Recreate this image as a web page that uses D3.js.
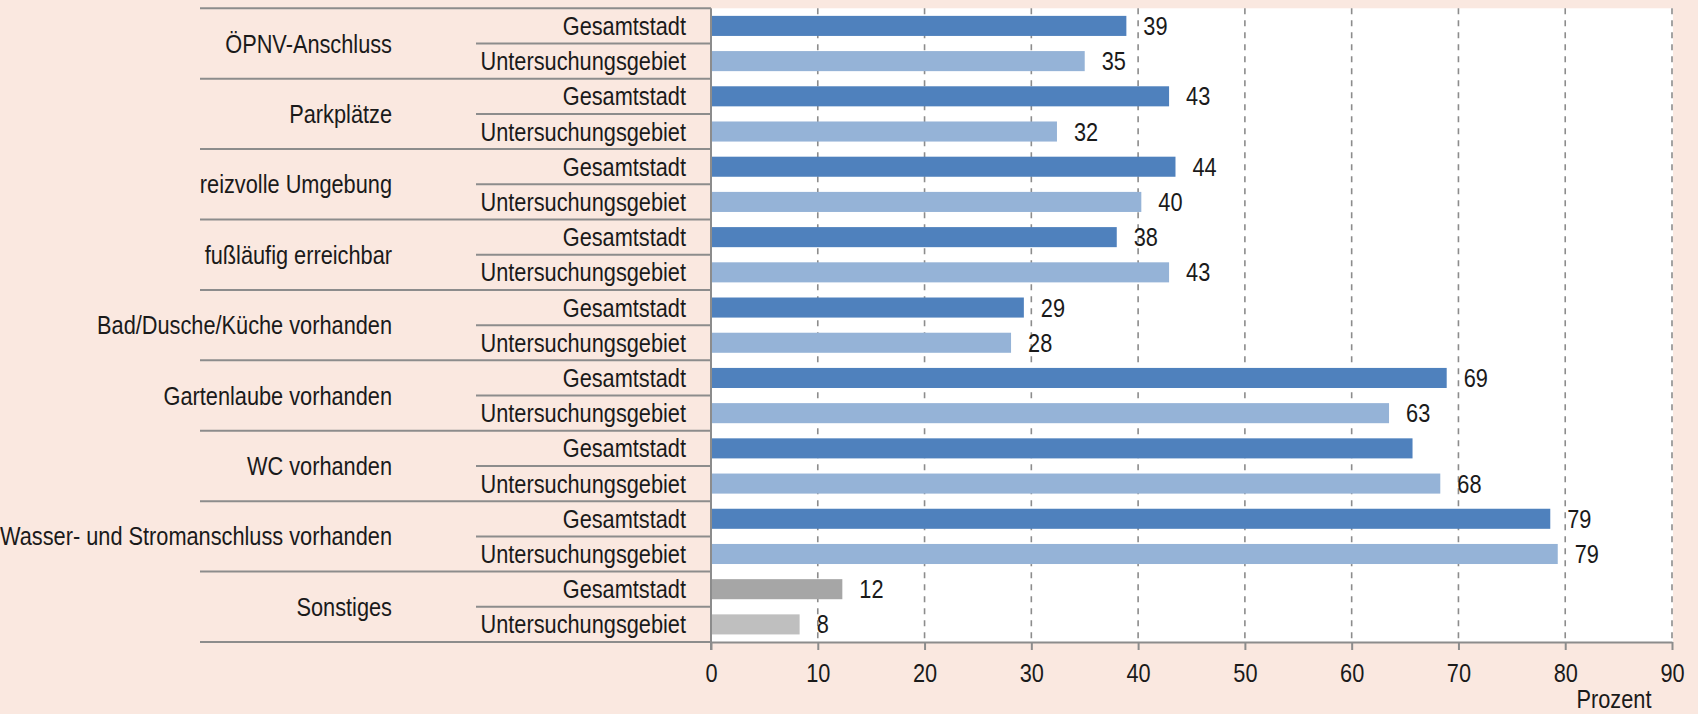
<!DOCTYPE html>
<html>
<head>
<meta charset="utf-8">
<title>Ausstattung und Lage</title>
<script src="https://cdn.jsdelivr.net/npm/d3@7/dist/d3.min.js"></script>
<style>
  body { margin: 0; background: #fae8e0; }
  svg { display: block; }
  text { font-family: "Liberation Sans", Arial, sans-serif; font-size: 25px; fill: #1a1a1a; }
  .grid line { stroke: #8c8c8c; stroke-width: 1.6; stroke-dasharray: 6 6; }
  .rule { stroke: #8c8c8c; stroke-width: 2; }
</style>
</head>
<body>
<script>
// data
var categories = ["ÖPNV-Anschluss", "Parkplätze", "reizvolle Umgebung", "fußläufig erreichbar",
  "Bad/Dusche/Küche vorhanden", "Gartenlaube vorhanden", "WC vorhanden",
  "Wasser- und Stromanschluss vorhanden", "Sonstiges"];
var groups = ["Gesamtstadt", "Untersuchungsgebiet"];
var gesamtstadt = [38.9, 42.9, 43.5, 38.0, 29.3, 68.9, 65.7, 78.6, 12.3];
var untersuchung = [35.0, 32.4, 40.3, 42.9, 28.1, 63.5, 68.3, 79.3, 8.3];
var gesamtLabels = ["39", "43", "44", "38", "29", "69", "", "79", "12"];
var untersLabels = ["35", "32", "40", "43", "28", "63", "68", "79", "8"];
var xTicks = [0, 10, 20, 30, 40, 50, 60, 70, 80, 90];

var width = 1698, height = 714;
var plotLeft = 711, plotRight = 1672, plotTop = 8.3, plotBottom = 642;
var tableLeft = 200, subLeft = 476;
var squeeze = 0.87; // narrow the font, the original uses a condensed face

var svg = d3.select("body").append("svg")
  .attr("width", width).attr("height", height);

var x = d3.scaleLinear().domain([0, 90]).range([plotLeft, plotRight]);
var yCat = d3.scaleBand().domain(categories).range([plotTop, plotBottom]);
var yRow = d3.scaleBand().domain(groups).range([0, yCat.bandwidth()]);
var yBar = d3.scaleBand().domain(groups).range([0, yCat.bandwidth()])
  .paddingInner(0.43).paddingOuter(0.215);

function place(px, py) {
  return "translate(" + px + "," + py + ") scale(" + squeeze + ",1)";
}

var rows = [];
categories.forEach(function(c, i) {
  var last = (i == categories.length - 1);
  rows.push({cat: c, grp: groups[0], v: gesamtstadt[i], lab: gesamtLabels[i], col: last ? "#a6a6a6" : "#4f81bd"});
  rows.push({cat: c, grp: groups[1], v: untersuchung[i], lab: untersLabels[i], col: last ? "#bfbfbf" : "#95b3d7"});
});

// white plot area
svg.append("rect")
  .attr("x", plotLeft).attr("y", plotTop)
  .attr("width", plotRight - plotLeft + 1).attr("height", plotBottom - plotTop)
  .attr("fill", "#ffffff");

// dashed grid lines
svg.append("g").attr("class", "grid")
  .selectAll("line").data(xTicks.slice(1)).enter().append("line")
  .attr("x1", function(d) { return x(d); }).attr("x2", function(d) { return x(d); })
  .attr("y1", plotTop).attr("y2", plotBottom);

// bars
svg.selectAll("rect.bar").data(rows).enter().append("rect")
  .attr("class", "bar")
  .attr("x", x(0) + 1)
  .attr("y", function(d) { return yCat(d.cat) + yBar(d.grp); })
  .attr("width", function(d) { return x(d.v) - x(0) - 1; })
  .attr("height", yBar.bandwidth())
  .attr("fill", function(d) { return d.col; });

// value labels
svg.selectAll("text.val").data(rows).enter().append("text")
  .attr("class", "val")
  .attr("transform", function(d) {
    return place(x(d.v) + 17, yCat(d.cat) + yRow(d.grp) + yRow.bandwidth() / 2 + 9);
  })
  .text(function(d) { return d.lab; });

// table rules
svg.selectAll("line.catrule").data(categories.concat(["_end"])).enter().append("line")
  .attr("class", "rule")
  .attr("x1", tableLeft).attr("x2", plotLeft)
  .attr("y1", function(d) { return d == "_end" ? plotBottom : yCat(d); })
  .attr("y2", function(d) { return d == "_end" ? plotBottom : yCat(d); });

svg.selectAll("line.subrule").data(categories).enter().append("line")
  .attr("class", "rule")
  .attr("x1", subLeft).attr("x2", plotLeft)
  .attr("y1", function(d) { return yCat(d) + yRow(groups[1]); })
  .attr("y2", function(d) { return yCat(d) + yRow(groups[1]); });

// category labels
svg.selectAll("text.cat").data(categories).enter().append("text")
  .attr("class", "cat")
  .attr("transform", function(d) { return place(392, yCat(d) + yCat.bandwidth() / 2 + 9); })
  .attr("text-anchor", "end")
  .text(function(d) { return d; });

// group labels
svg.selectAll("text.grp").data(rows).enter().append("text")
  .attr("class", "grp")
  .attr("transform", function(d) { return place(686, yCat(d.cat) + yRow(d.grp) + yRow.bandwidth() / 2 + 9); })
  .attr("text-anchor", "end")
  .text(function(d) { return d.grp; });

// x axis
var xAxis = d3.axisBottom(x).tickValues(xTicks).tickSize(8).tickPadding(14).tickSizeOuter(0);
var gx = svg.append("g")
  .attr("transform", "translate(0," + plotBottom + ")")
  .call(xAxis);
gx.select(".domain").attr("stroke", "#8c8c8c").attr("stroke-width", 2);
gx.selectAll(".tick line").attr("stroke", "#8c8c8c").attr("stroke-width", 2);
gx.selectAll(".tick text")
  .style("font-size", "25px").attr("fill", "#1a1a1a")
  .style("font-family", "\"Liberation Sans\", Arial, sans-serif")
  .attr("transform", "scale(" + squeeze + ",1)");

// y axis line
svg.append("line").attr("class", "rule")
  .attr("x1", plotLeft).attr("x2", plotLeft)
  .attr("y1", plotTop).attr("y2", plotBottom + 8);

svg.append("text")
  .attr("transform", place(1614, 708))
  .attr("text-anchor", "middle")
  .text("Prozent");
</script>
</body>
</html>
